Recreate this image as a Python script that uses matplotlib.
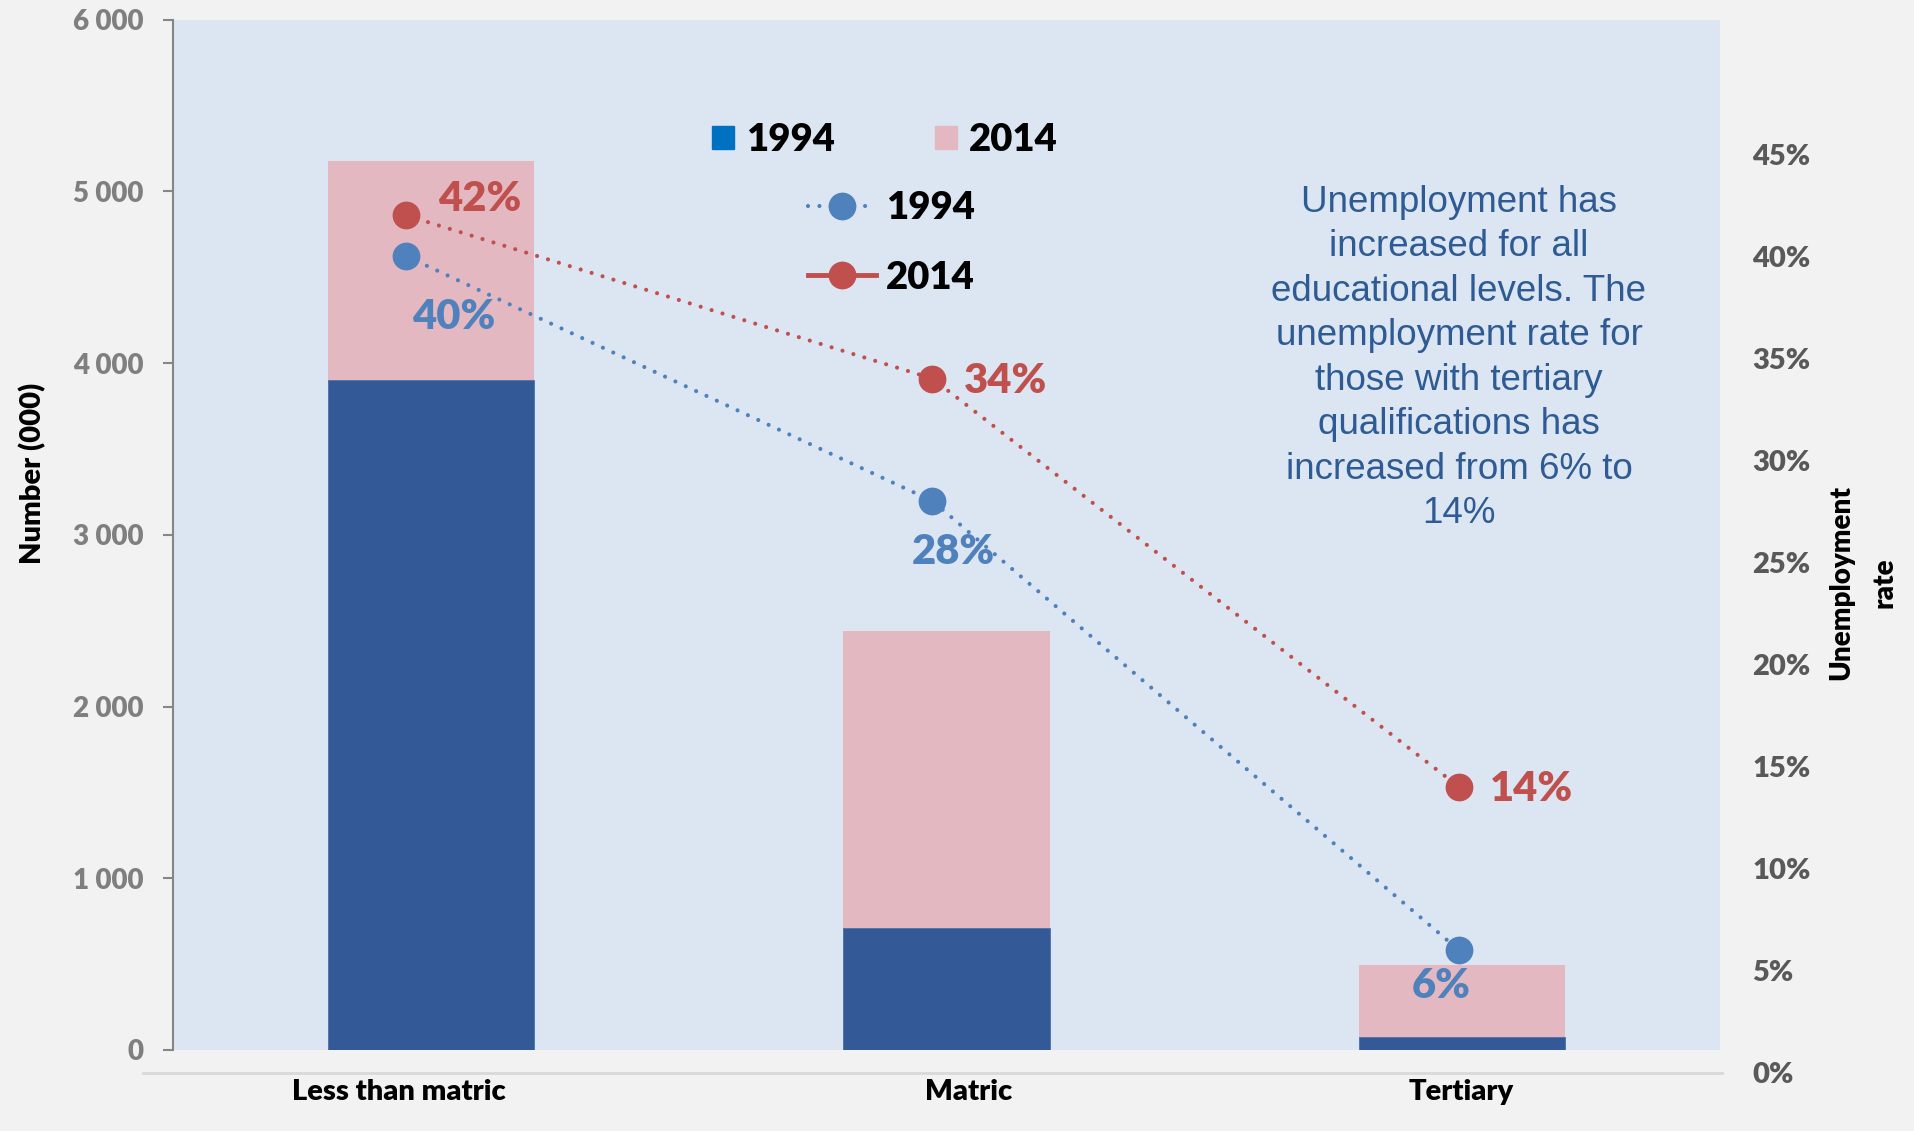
import numpy as np
import matplotlib.pyplot as plt
from matplotlib.patches import Patch
from matplotlib.lines import Line2D
from matplotlib.ticker import FuncFormatter, FixedLocator


categories = ["Less than matric", "Matric", "Tertiary"]

# number of people (000)
num_1994 = [3900, 710, 75]
num_2014 = [5175, 2440, 495]

# unemployment rate
rate_1994 = [0.40, 0.28, 0.06]
rate_2014 = [0.42, 0.34, 0.14]

BAR_1994 = '#335A96'
BAR_2014 = '#E4B8C1'
LINE_1994 = '#4F81BD'
LINE_2014 = '#C0504D'
FONT = ['Lato', 'DejaVu Sans']
HEAVY = 'heavy'

plt.rcParams['font.family'] = FONT

W, H = 1915, 1131
fig = plt.figure(figsize=(W / 100, H / 100), dpi=100, facecolor='#F2F2F2')


def box(l, t, r, b):
    return [l / W, 1 - b / H, (r - l) / W, (b - t) / H]


#############################  bars (left axis)  #############################
ax1 = fig.add_axes(box(173, 19.5, 1720, 1050))
ax1.set_facecolor('#DCE6F2')
x = np.arange(len(categories))
ax1.bar(x, num_2014, width=0.4, color=BAR_2014, zorder=2)
ax1.bar(x, num_1994, width=0.4, color=BAR_1994, edgecolor='#4A72AE', linewidth=0.6, zorder=3)
ax1.set_xlim(-0.5, 2.5)
ax1.set_ylim(0, 6000)
ax1.set_yticks(np.arange(0, 6001, 1000))
ax1.yaxis.set_major_formatter(FuncFormatter(lambda v, p: f"{int(v):,}".replace(",", " ")))
ax1.set_xticks([])
for s in ['top', 'right', 'bottom']:
    ax1.spines[s].set_visible(False)
ax1.spines['left'].set_color('#868686')
ax1.spines['left'].set_linewidth(1.5)
ax1.tick_params(axis='y', direction='out', length=7, width=1.5, color='#868686',
                pad=14, labelsize=20, labelcolor='#7F7F7F')
for t in ax1.get_yticklabels():
    t.set_fontweight(HEAVY)

#############################  rates (right axis)  ###########################
ax2 = fig.add_axes(box(143, 19.5, 1722, 1072.5))
ax2.patch.set_alpha(0)
ax2.set_xlim(-0.5, 2.5)
ax2.set_ylim(0, (1072.5 - 19.5) / 102.04 * 0.05)
dots = (0, (0.001, 2.74))
ax2.plot(x, rate_1994, color=LINE_1994, lw=3, ls=dots, dash_capstyle='round',
         marker='o', ms=20, mew=0, zorder=4)
ax2.plot(x, rate_2014, color=LINE_2014, lw=3, ls=dots, dash_capstyle='round',
         marker='o', ms=20, mew=0, zorder=4)

ax2.yaxis.tick_right()
ax2.yaxis.set_major_locator(FixedLocator(np.arange(0, 0.451, 0.05)))
ax2.yaxis.set_major_formatter(FuncFormatter(lambda v, p: f"{v * 100:.0f}%"))
ax2.tick_params(axis='y', length=0, pad=22, labelsize=21, labelcolor='#595959')
for t in ax2.get_yticklabels():
    t.set_fontweight(HEAVY)
ax2.set_xticks([])
for s in ['top', 'right', 'left']:
    ax2.spines[s].set_visible(False)
ax2.spines['bottom'].set_color('#D9D9D9')
ax2.spines['bottom'].set_linewidth(2)

# category names under the axis line
nudge = [-5, 26, 2]
for i, name in enumerate(categories):
    ax2.annotate(name, xy=(i, 0), xycoords=('data', 'axes fraction'),
                 xytext=(nudge[i], -14.3), textcoords='offset points',
                 ha='center', va='center', fontsize=21, fontweight=HEAVY, color='black')

# value labels next to the points
lab_1994 = [(34, -44, 'center'), (15, -37, 'center'), (-13, -26, 'center')]
lab_2014 = [(23, 12, 'left'), (23, -1.4, 'left'), (22, -1.4, 'left')]
for i in range(len(categories)):
    dx, dy, ha = lab_1994[i]
    ax2.annotate(f"{rate_1994[i] * 100:.0f}%", xy=(x[i], rate_1994[i]), xytext=(dx, dy),
                 textcoords='offset points', ha=ha, va='center', fontsize=30,
                 fontweight=HEAVY, color=LINE_1994, zorder=5)
    dx, dy, ha = lab_2014[i]
    ax2.annotate(f"{rate_2014[i] * 100:.0f}%", xy=(x[i], rate_2014[i]), xytext=(dx, dy),
                 textcoords='offset points', ha=ha, va='center', fontsize=30,
                 fontweight=HEAVY, color=LINE_2014, zorder=5)

#############################  legends  #####################################
bar_handles = [Patch(color='#0070C0'), Patch(color=BAR_2014)]
leg1 = fig.legend(bar_handles, ['1994', '2014'], ncol=2,
                  loc='center left', bbox_to_anchor=(712 / W, 1 - 140 / H),
                  frameon=False, borderpad=0, borderaxespad=0,
                  handlelength=0.57, handleheight=0.57, handletextpad=0.31,
                  columnspacing=2.64, prop={'size': 27.5, 'weight': HEAVY, 'family': FONT})

line_handles = [Line2D([], [], color=LINE_1994, lw=3, ls=dots, dash_capstyle='round',
                       marker='o', ms=20, mew=0),
                Line2D([], [], color=LINE_2014, lw=3.5, marker='o', ms=20, mew=0)]
leg2 = fig.legend(line_handles, ['1994', '2014'], ncol=1, numpoints=1,
                  loc='center left', bbox_to_anchor=(808 / W, 1 - 243 / H),
                  frameon=False, borderpad=0, borderaxespad=0,
                  handlelength=1.79, handletextpad=0.26, labelspacing=0.93,
                  prop={'size': 27.5, 'weight': HEAVY, 'family': FONT})

#############################  texts  #######################################
fig.text(1459 / W, 1 - 358 / H,
         "Unemployment has\nincreased for all\neducational levels. The\nunemployment rate for\n"
         "those with tertiary\nqualifications has\nincreased from 6% to\n14%",
         ha='center', va='center', multialignment='center', linespacing=1.35,
         fontsize=26.5, family='Liberation Sans', color='#2F5B94')

fig.text(33 / W, 1 - 473 / H, "Number (000)", rotation=90, ha='center', va='center',
         fontsize=21, fontweight=HEAVY, color='black')
fig.text(1863 / W, 1 - 583 / H, "Unemployment\nrate", rotation=90, ha='center', va='center',
         multialignment='center', linespacing=1.85, fontsize=20, fontweight=HEAVY, color='black')

fig.savefig('out.png', dpi=100, facecolor=fig.get_facecolor())
